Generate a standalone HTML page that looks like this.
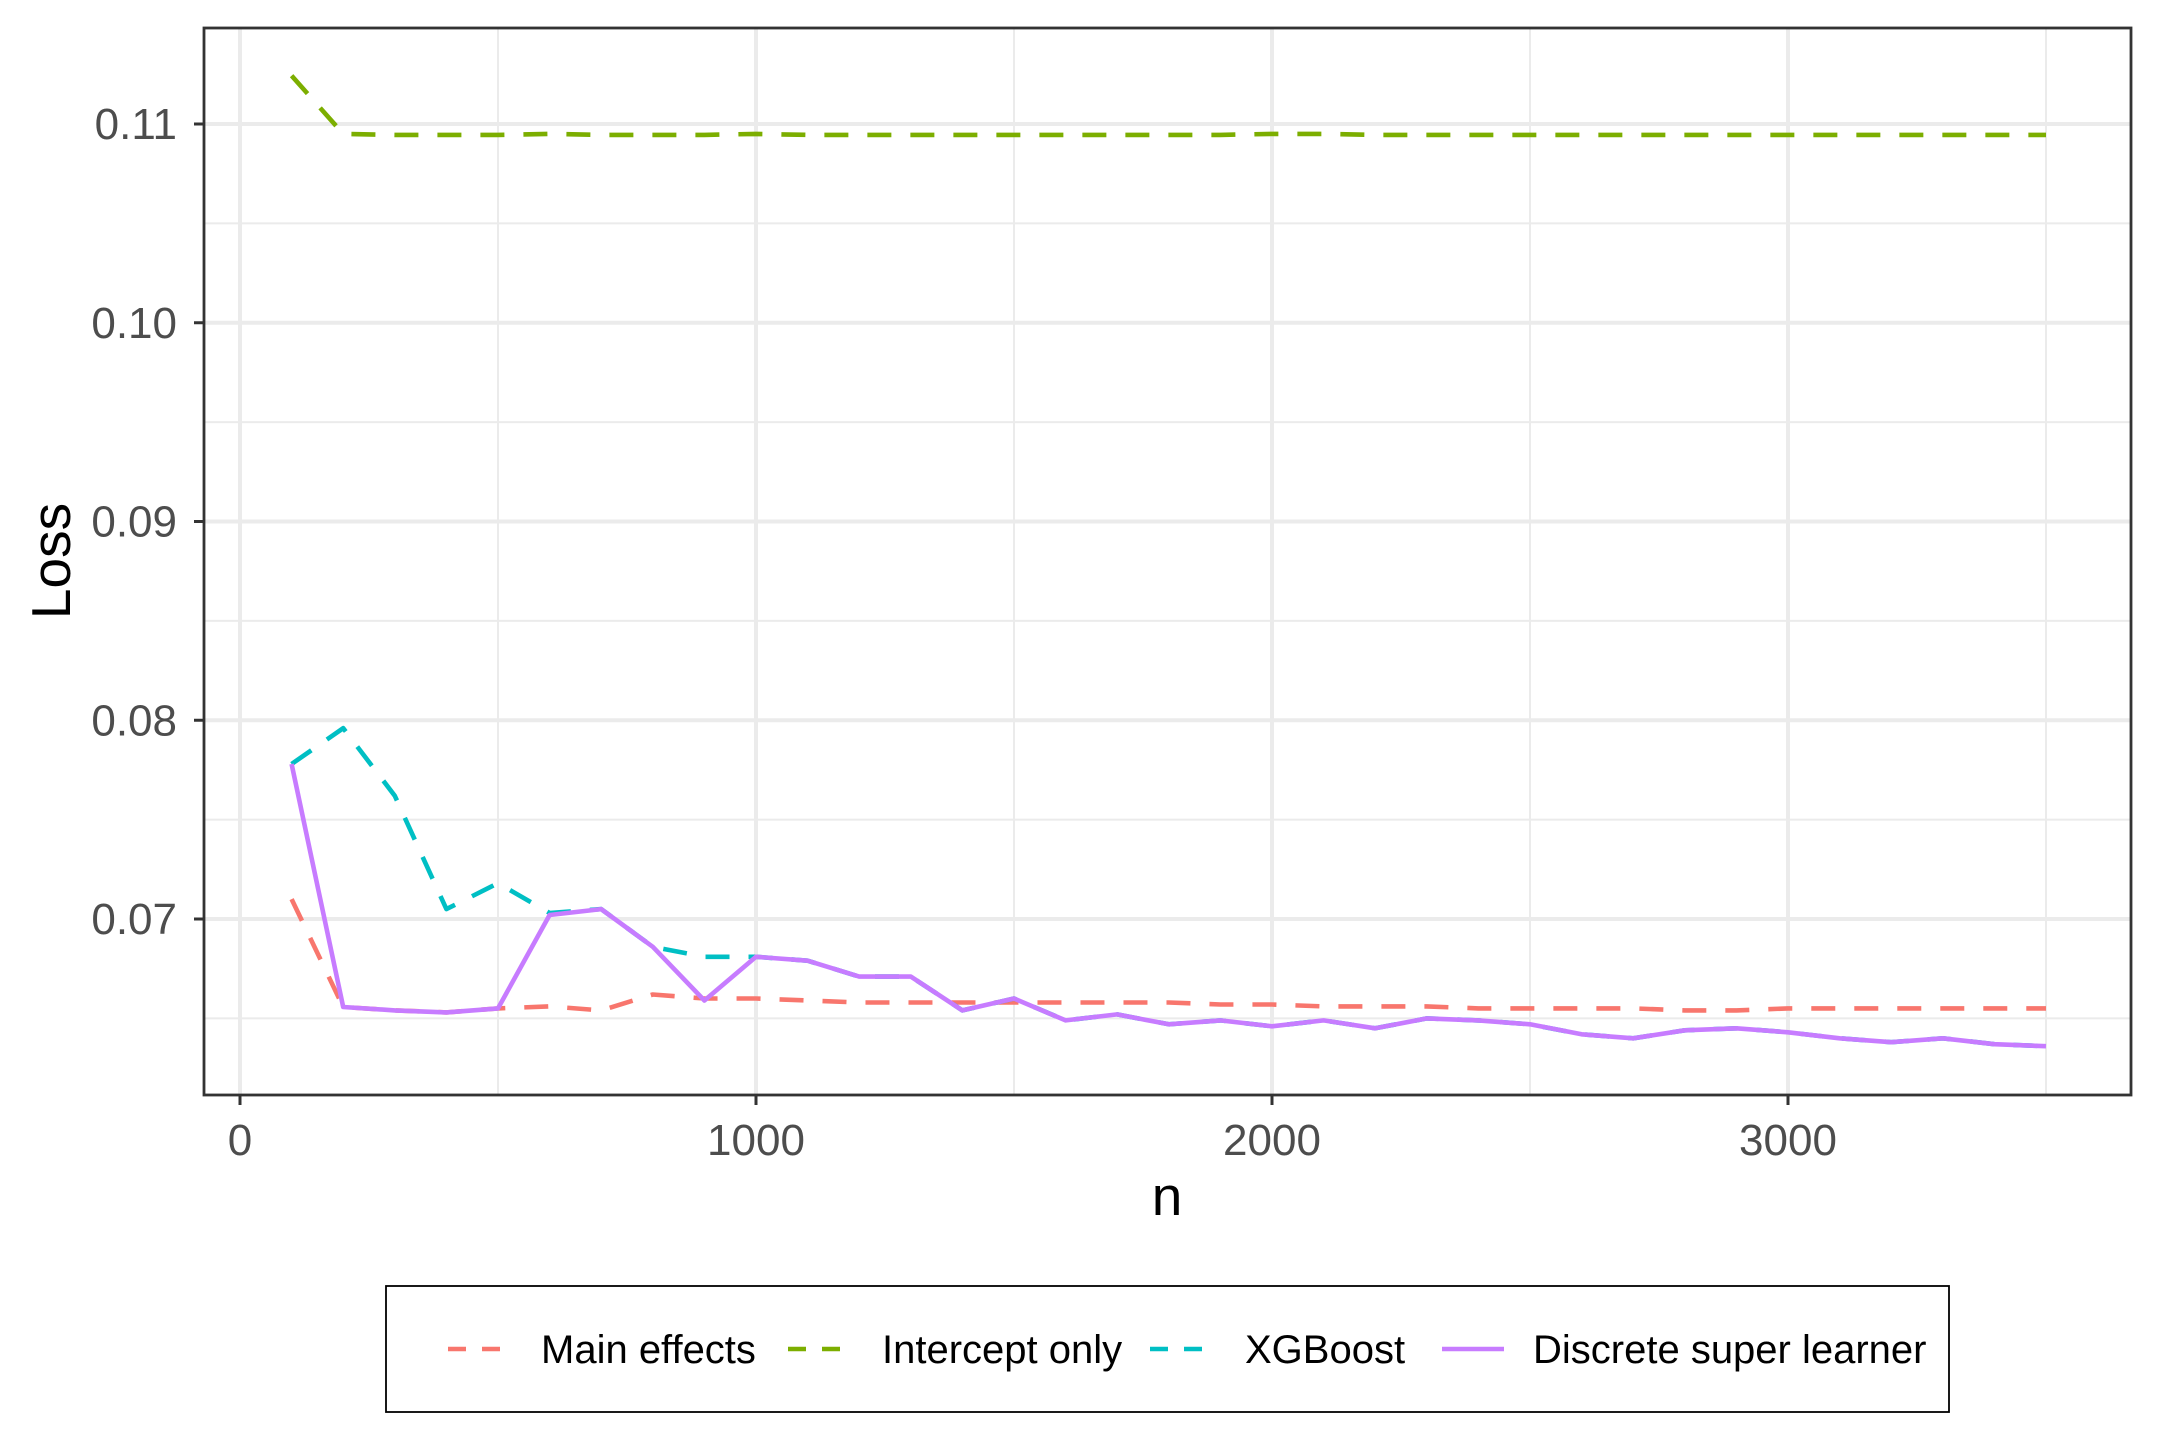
<!DOCTYPE html>
<html><head><meta charset="utf-8"><style>
html,body{margin:0;padding:0;background:#fff;}
svg{display:block;font-family:"Liberation Sans",sans-serif;}
</style></head><body>
<svg id="chart" width="2160" height="1440" viewBox="0 0 2160 1440"></svg>
<script>
const nValues=[100,200,300,400,500,600,700,800,900,1000,1100,1200,1300,1400,1500,1600,1700,1800,1900,2000,2100,2200,2300,2400,2500,2600,2700,2800,2900,3000,3100,3200,3300,3400,3500];
const mainEffects=[0.0710,0.06557,0.0654,0.0653,0.0655,0.0656,0.0654,0.0662,0.0660,0.0660,0.0659,0.0658,0.0658,0.0658,0.0658,0.0658,0.0658,0.0658,0.0657,0.0657,0.0656,0.0656,0.0656,0.0655,0.0655,0.0655,0.0655,0.0654,0.0654,0.0655,0.0655,0.0655,0.0655,0.0655,0.0655];
const interceptOnly=[0.11243,0.1095,0.10945,0.10945,0.10945,0.1095,0.10945,0.10945,0.10945,0.1095,0.10945,0.10945,0.10945,0.10945,0.10945,0.10945,0.10945,0.10945,0.10945,0.1095,0.1095,0.10945,0.10945,0.10945,0.10945,0.10945,0.10945,0.10945,0.10945,0.10945,0.10945,0.10945,0.10945,0.10945,0.10945];
const xgboost=[0.0778,0.0796,0.0762,0.0705,0.0718,0.0703,0.0705,0.0686,0.0681,0.0681,0.0679,0.0671,0.0671,0.0654,0.0660,0.0649,0.0652,0.0647,0.0649,0.0646,0.0649,0.0645,0.0650,0.0649,0.0647,0.0642,0.0640,0.0644,0.0645,0.0643,0.0640,0.0638,0.0640,0.0637,0.0636];
const discreteSL=[0.0778,0.06557,0.0654,0.0653,0.0655,0.0702,0.0705,0.0686,0.0659,0.0681,0.0679,0.0671,0.0671,0.0654,0.0660,0.0649,0.0652,0.0647,0.0649,0.0646,0.0649,0.0645,0.0650,0.0649,0.0647,0.0642,0.0640,0.0644,0.0645,0.0643,0.0640,0.0638,0.0640,0.0637,0.0636];
const yTicks=[0.07,0.08,0.09,0.10,0.11];
const yTickLabels=["0.07","0.08","0.09","0.10","0.11"];
const yMinor=[0.065,0.075,0.085,0.095,0.105];
const xTicks=[0,1000,2000,3000];
const xTickLabels=["0","1000","2000","3000"];
const xMinor=[500,1500,2500,3500];
const seriesNames=["Main effects","Intercept only","XGBoost","Discrete super learner"];

const L=204,R=2131,T=28,B=1095;
function xs(v){return 240+v*0.516;}
function ys(v){return 124+(0.11-v)*19875;}
const NS="http://www.w3.org/2000/svg";
const svg=document.getElementById('chart');
function mk(tag,attrs,parent){const e=document.createElementNS(NS,tag);for(const k in attrs)e.setAttribute(k,attrs[k]);(parent||svg).appendChild(e);return e;}

const grid=mk('g',{});


yMinor.forEach(v=>{mk('line',{x1:L,x2:R,y1:ys(v),y2:ys(v),stroke:'#ebebeb','stroke-width':2},grid);});
xMinor.forEach(v=>{mk('line',{x1:xs(v),x2:xs(v),y1:T,y2:B,stroke:'#ebebeb','stroke-width':2},grid);});
yTicks.forEach(v=>{mk('line',{x1:L,x2:R,y1:ys(v),y2:ys(v),stroke:'#ebebeb','stroke-width':4},grid);});
xTicks.forEach(v=>{mk('line',{x1:xs(v),x2:xs(v),y1:T,y2:B,stroke:'#ebebeb','stroke-width':4},grid);});

const colors=['#F8766D','#7CAE00','#00BFC4','#C77CFF'];
const data=[mainEffects,interceptOnly,xgboost,discreteSL];
const names=['main-effects-line','intercept-only-line','xgboost-line','discrete-super-learner-line'];
data.forEach((arr,i)=>{
  const d=arr.map((v,j)=>(j?'L':'M')+xs(nValues[j]).toFixed(1)+','+ys(v).toFixed(1)).join(' ');
  const p=mk('path',{d:d,fill:'none',stroke:colors[i],'stroke-width':4.6,'stroke-linejoin':'round'});
  if(i<3)p.setAttribute('stroke-dasharray','24,19');
  
  
});

const frame=mk('rect',{x:L,y:T,width:R-L,height:B-T,fill:'none',stroke:'#333','stroke-width':2.8});



yTicks.forEach((v,i)=>{
  mk('line',{x1:L-10,x2:L,y1:ys(v),y2:ys(v),stroke:'#333','stroke-width':3});
  const t=mk('text',{x:L-27,y:ys(v)+15,'text-anchor':'end','font-size':44,fill:'#4d4d4d'});
  t.textContent=yTickLabels[i];
  
  
});
xTicks.forEach((v,i)=>{
  mk('line',{x1:xs(v),x2:xs(v),y1:B,y2:B+10,stroke:'#333','stroke-width':3});
  const t=mk('text',{x:xs(v),y:B+60,'text-anchor':'middle','font-size':44,fill:'#4d4d4d'});
  t.textContent=xTickLabels[i];
  
  
});
const xt=mk('text',{x:1167,y:1215,'text-anchor':'middle','font-size':55,fill:'#000'});
xt.textContent='n';


const yt=mk('text',{x:0,y:0,'text-anchor':'middle','font-size':55,fill:'#000',transform:'translate(70,561) rotate(-90)'});
yt.textContent='Loss';



const lg=mk('g',{});


mk('rect',{x:386,y:1286,width:1563,height:126,fill:'#fff',stroke:'#000','stroke-width':1.8},lg);
const keyX=[448,788,1150,1442];
const textX=[541,882,1245,1533];
seriesNames.forEach((s,i)=>{
  const k=mk('line',{x1:keyX[i],x2:keyX[i]+62,y1:1349,y2:1349,stroke:colors[i],'stroke-width':4.6},lg);
  if(i<3)k.setAttribute('stroke-dasharray','18,16');
  
  
  const t=mk('text',{x:textX[i],y:1363,'font-size':40,fill:'#000'},lg);
  t.textContent=s;
  
  
});
</script>
</body></html>
